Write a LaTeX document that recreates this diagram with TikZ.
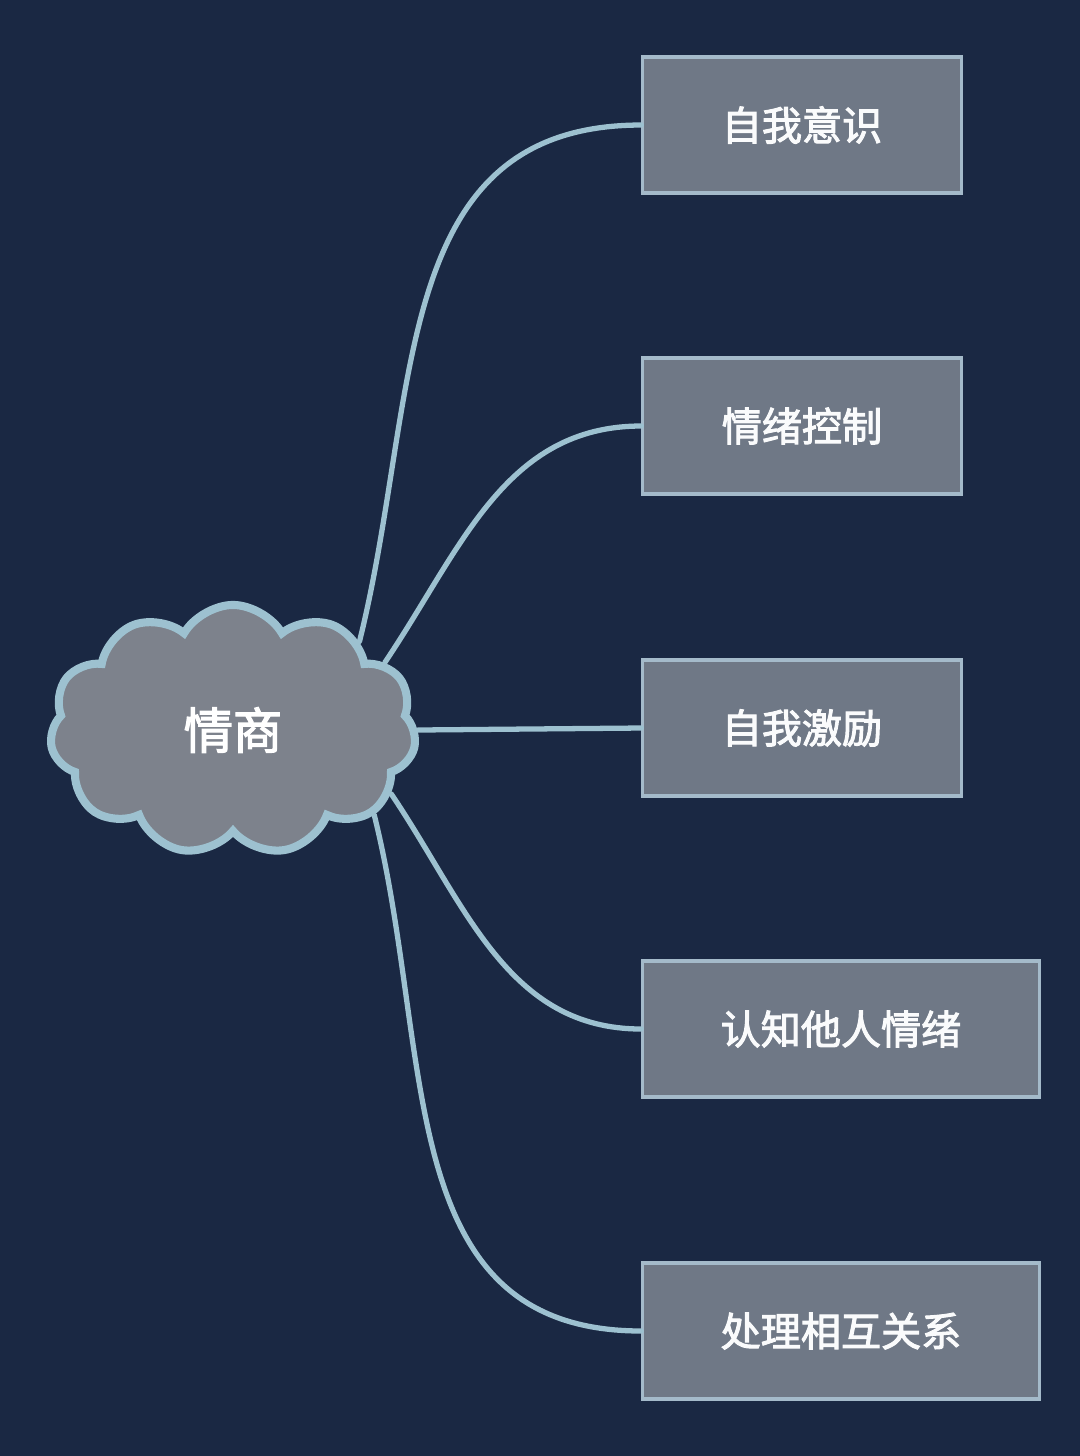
\documentclass[tikz,border=0pt]{standalone}
\usepackage{fontspec}
\newfontfamily\cjk[FakeBold=2.5]{Noto Sans CJK SC}
\usetikzlibrary{shapes.symbols,positioning}
\definecolor{navy}{HTML}{1A2843}
\definecolor{boxgray}{HTML}{6F7886}
\definecolor{boxline}{HTML}{A4BACA}
\definecolor{cloudgray}{HTML}{7D828C}
\definecolor{cloudline}{HTML}{9DC1D0}
\tikzset{
  topic/.style  = {cloud, cloud puffs=11, cloud puff arc=120, draw=cloudline,
                   line width=2.3pt, fill=cloudgray, minimum width=3.66cm,
                   minimum height=2.5cm, text=white, font=\cjk\fontsize{14}{16}\selectfont},
  item/.style   = {rectangle, draw=boxline, line width=0.9pt, fill=boxgray,
                   minimum width=3.18cm, minimum height=1.36cm, text=white!94!boxline,
                   font=\cjk\fontsize{11.4}{13}\selectfont},
  wide/.style   = {item, minimum width=3.96cm},
  branch/.style = {draw=cloudline, line width=1.5pt, line cap=round}
}
\begin{document}
\begin{tikzpicture}[x=0.01cm,y=0.01cm]

% background
\fill[navy] (0,0) rectangle (1080,-1456);

% central cloud
\node[topic] (eq) at (233,-730) {情商};

% the five boxes
\node[item] (b1) at (802,-125) {自我意识};
\node[item] (b2) at (802,-426) {情绪控制};
\node[item] (b3) at (802,-728) {自我激励};
\node[wide] (b4) at (841,-1029) {认知他人情绪};
\node[wide] (b5) at (841,-1331) {处理相互关系};

% branches
\draw[branch] (eq.35) to[out=76,in=180,looseness=1.1] (b1.west);
\draw[branch] (eq.24) to[out=56,in=180] (b2.west);
\draw[branch] (eq.0) -- (b3.west);
\draw[branch] (eq.-22) to[out=-56,in=180] (b4.west);
\draw[branch] (eq.-31) to[out=-76,in=180,looseness=1.1] (b5.west);
\end{tikzpicture}
\end{document}
